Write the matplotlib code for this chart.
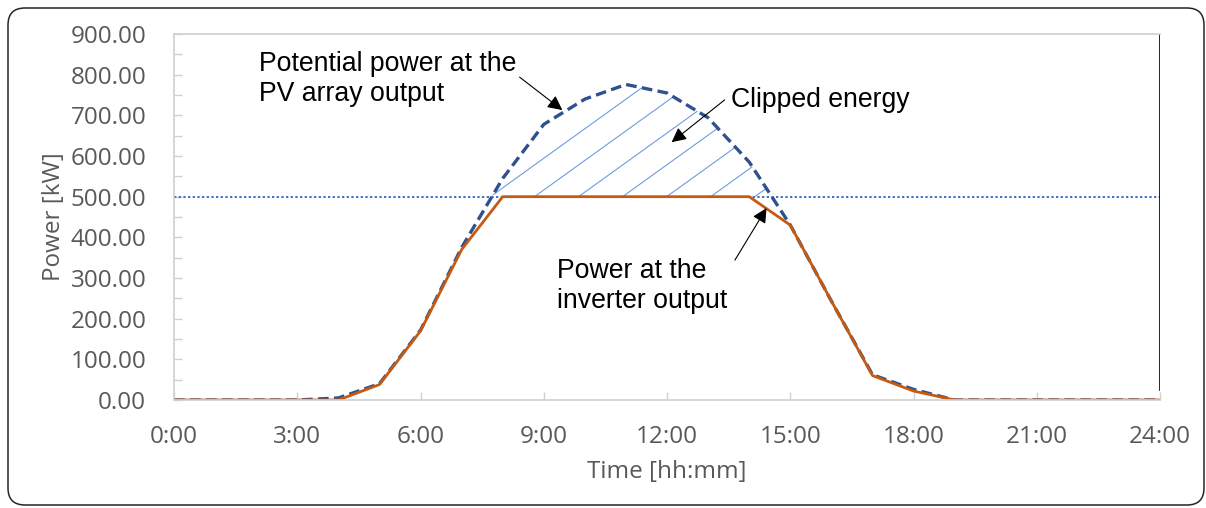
import numpy as np
import matplotlib
matplotlib.use("Agg")
import matplotlib.pyplot as plt
from matplotlib.patches import FancyBboxPatch

# hourly values
hours = np.arange(0, 25)
pv_power = np.array([0, 0, 0, 0, 5, 40, 172, 375, 545, 678, 740, 776, 755, 694,
                     585, 430, 243, 62, 26, 0, 0, 0, 0, 0, 0])
inv_power = np.array([0, 0, 0, 0, 0, 38, 170, 370, 500, 500, 500, 500, 500, 500,
                      500, 430, 243, 60, 22, 0, 0, 0, 0, 0, 0])
inv_limit = 500
x_ticks = np.arange(0, 25, 3)
x_labels = ["%d:00" % h for h in x_ticks]
y_ticks = np.arange(0, 901, 100)

grey = "#595959"
plt.rcParams["font.family"] = ["Open Sans", "DejaVu Sans"]

fig = plt.figure(figsize=(12.06, 5.08), dpi=100)
ax = fig.add_axes([0.1443, 0.2126, 0.962 - 0.1443, 0.933 - 0.2126])

# rounded frame round the whole picture
frame = FancyBboxPatch((0.08, 0.03), 11.96, 4.97, boxstyle="round,pad=0,rounding_size=0.17",
                       transform=fig.dpi_scale_trans, facecolor="none",
                       edgecolor="#262626", lw=1.1, clip_on=False)
fig.patches.append(frame)

# clipped area, hatched
poly = ax.fill_between(hours, inv_limit, pv_power, where=pv_power >= inv_limit,
                       interpolate=True, facecolor="none", edgecolor="none")
clip = poly.get_paths()[0]
for b in np.arange(7.70, 14.5, 1.072):
    ln, = ax.plot([b, b + 5], [inv_limit, inv_limit + 5 * 72.7], color="#6F9BE0", lw=0.8)
    ln.set_clip_path(clip, ax.transData)

ax.axhline(inv_limit, color="#4472C4", lw=1.4, ls=(0, (1.2, 1.2)))
ax.plot(hours, pv_power, color="#2F528F", lw=2.4, ls=(0, (3.2, 1.6)))
ax.plot(hours, inv_power, color="#C55A11", lw=2.0)

ax.set_xlim(0, 24)
ax.set_ylim(0, 900)
ax.set_xticks(x_ticks)
ax.set_xticklabels(x_labels)
ax.set_yticks(y_ticks)
ax.set_yticks(np.arange(50, 900, 100), minor=True)
ax.yaxis.set_major_formatter(matplotlib.ticker.FormatStrFormatter("%.2f"))
ax.tick_params(axis="both", direction="in", colors="#D0D0D0", labelcolor=grey,
               labelsize=17.5, length=6, width=1)
ax.tick_params(axis="y", which="minor", direction="in", colors="#D0D0D0", length=6, width=1)
ax.tick_params(axis="y", pad=20)
ax.tick_params(axis="x", pad=18)
for s in ["left", "bottom", "top"]:
    ax.spines[s].set_color("#D0D0D0")
    ax.spines[s].set_linewidth(1.2)
ax.spines["right"].set_visible(False)
ax.axvline(24, ymin=0.027, ymax=1, color="black", lw=1.2)

ax.set_ylabel("Power [kW]", fontsize=17.5, color=grey, labelpad=3)
ax.set_xlabel("Time [hh:mm]", fontsize=17.5, color=grey, labelpad=8)

# annotations
tf = dict(fontsize=19.2, family=["Liberation Sans"], color="black", va="top", ha="left",
          linespacing=1.2)
ax.text(2.07, 858, "Potential power at the\nPV array output", **tf)
ax.text(13.55, 769, "Clipped energy", **tf)
ax.text(9.31, 350, "Power at the\ninverter output", **tf)
ap = dict(arrowstyle="-|>", color="black", lw=0.8, mutation_scale=22, shrinkA=0, shrinkB=0)
ax.annotate("", xy=(9.45, 713), xytext=(8.41, 794), arrowprops=ap)
ax.annotate("", xy=(12.11, 634), xytext=(13.40, 738), arrowprops=ap)
ax.annotate("", xy=(14.42, 472), xytext=(13.65, 344), arrowprops=ap)

fig.savefig("out.png", dpi=100)
